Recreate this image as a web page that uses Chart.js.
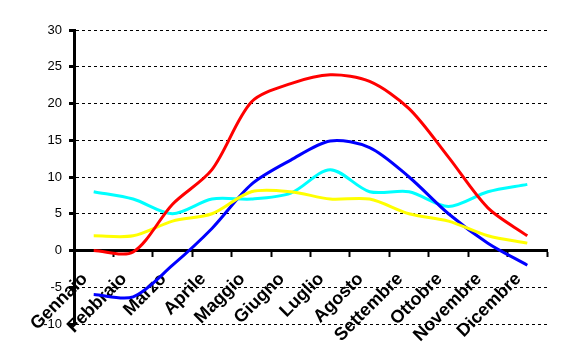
<!DOCTYPE html>
<html>
<head>
<meta charset="utf-8">
<script src="https://cdn.jsdelivr.net/npm/chart.js@4"></script>
<style>
  html, body { margin: 0; padding: 0; background: #fff; }
  #wrap { width: 563px; height: 362px; }
</style>
</head>
<body>
<div id="wrap"><canvas id="chart" width="563" height="362"></canvas></div>
<script>
const months = ["Gennaio", "Febbraio", "Marzo", "Aprile", "Maggio", "Giugno",
                "Luglio", "Agosto", "Settembre", "Ottobre", "Novembre", "Dicembre"];
const redValues = [0, -0.2, 6.3, 11, 20.2, 22.7, 23.9, 23, 19.3, 12.7, 5.8, 2];
const blueValues = [-6, -6.3, -2, 3, 9, 12.3, 14.9, 14, 10, 5, 1, -2];
const cyanValues = [8, 7, 5, 7, 7, 7.8, 11, 8, 8, 6, 8, 9];
const yellowValues = [2, 2, 4, 5, 8, 8, 7, 7, 5, 4, 2, 1];
const yTicks = [-10, -5, 0, 5, 10, 15, 20, 25, 30];

function lineSet(data, color) {
    return {
        data: data,
        borderColor: color,
        backgroundColor: color,
        borderWidth: 3,
        pointRadius: 0,
        fill: false,
        tension: 0.3
    };
}

const ctx = document.getElementById("chart").getContext("2d");

new Chart(ctx, {
    type: "line",
    data: {
        labels: months,
        datasets: [
            lineSet(redValues, "#ff0000"),
            lineSet(yellowValues, "#ffff00"),
            lineSet(blueValues, "#0000ff"),
            lineSet(cyanValues, "#00ffff")
        ]
    },
    options: {
        responsive: false,
        animation: false,
        layout: { padding: { left: 0, top: 30, right: 16, bottom: 38 } },
        plugins: {
            legend: { display: false },
            tooltip: { enabled: false }
        },
        scales: {
            x: {
                type: "category",
                position: { y: 0 },
                offset: true,
                grid: {
                    display: true,
                    drawOnChartArea: false,
                    offset: true,
                    tickLength: 5,
                    tickWidth: 2,
                    tickColor: "#000"
                },
                border: { color: "#000", width: 3 },
                ticks: {
                    autoSkip: false,
                    minRotation: 45,
                    maxRotation: 45,
                    padding: 13,
                    labelOffset: -9,
                    color: "#000",
                    font: { family: "'Liberation Sans', Arial, sans-serif", size: 18, weight: "bold" }
                },
                afterFit: function (scale) { scale.height = 0; }
            },
            y: {
                min: -10,
                max: 30,
                afterBuildTicks: function (scale) {
                    scale.ticks = yTicks.map(v => ({ value: v }));
                },
                grid: {
                    color: "#000",
                    lineWidth: 1,
                    tickLength: 5,
                    tickWidth: 3,
                    tickColor: "#000"
                },
                border: { color: "#000", width: 3, dash: [3, 3] },
                ticks: {
                    padding: 7,
                    color: "#000",
                    font: { family: "'Liberation Sans', Arial, sans-serif", size: 13 }
                },
                afterFit: function (scale) { scale.width = 74; }
            }
        }
    }
});
</script>
</body>
</html>
